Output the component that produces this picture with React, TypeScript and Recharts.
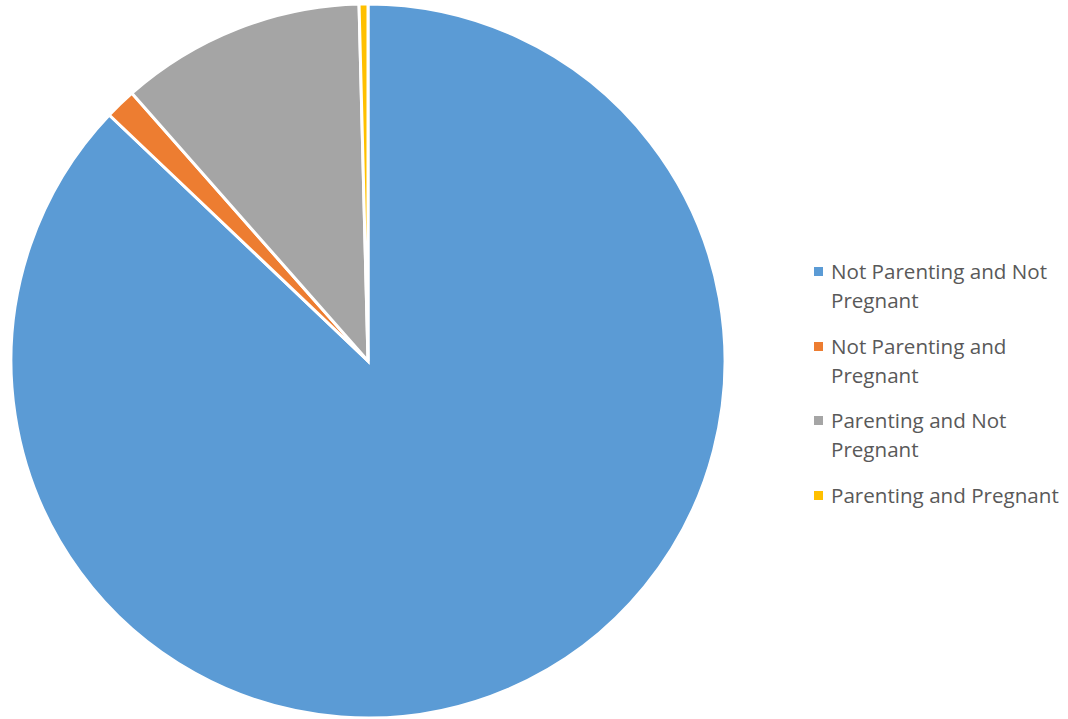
import React from 'react';
import { PieChart, Pie, Cell, Legend } from 'recharts';

const categories = ['Not Parenting and Not Pregnant', 'Not Parenting and Pregnant', 'Parenting and Not Pregnant', 'Parenting and Pregnant'];
const legendLines = [['Not Parenting and Not', 'Pregnant'], ['Not Parenting and', 'Pregnant'], ['Parenting and Not', 'Pregnant'], ['Parenting and Pregnant']];
const values = [87.1, 1.4, 11.1, 0.4];
const colors = ['#5B9BD5', '#ED7D31', '#A5A5A5', '#FFC000'];

const data = categories.map((name, i) => ({ name, value: values[i] }));

const renderLegend = () => (
  <div style={{ fontFamily: 'Open Sans, sans-serif', fontSize: 20.6, color: '#595959' }}>
    {categories.map((c, i) => (
      <div key={c} style={{ position: 'relative', paddingLeft: 19, marginBottom: 16.5, lineHeight: '29px' }}>
        <span style={{ position: 'absolute', left: 2, top: 10, width: 9, height: 9, background: colors[i] }} />
        {legendLines[i].map((l, j) => (<div key={j}>{l}</div>))}
      </div>
    ))}
  </div>
);

export default function App() {
  return (
    <div style={{ position: 'absolute', left: 0, top: 0, width: 1068, height: 719, background: '#fff' }}>
      <PieChart width={1068} height={719} margin={{ top: 0, right: 0, bottom: 0, left: 0 }}>
        <Pie
          data={data}
          dataKey="value"
          nameKey="name"
          cx={368}
          cy={361}
          outerRadius={357}
          startAngle={90}
          endAngle={-270}
          stroke="#fff"
          strokeWidth={3}
          isAnimationActive={false}
        >
          {data.map((d, i) => (<Cell key={d.name} fill={colors[i]} />))}
        </Pie>
        <Legend content={renderLegend} wrapperStyle={{ left: 812, top: 257, width: 256 }} />
      </PieChart>
    </div>
  );
}
